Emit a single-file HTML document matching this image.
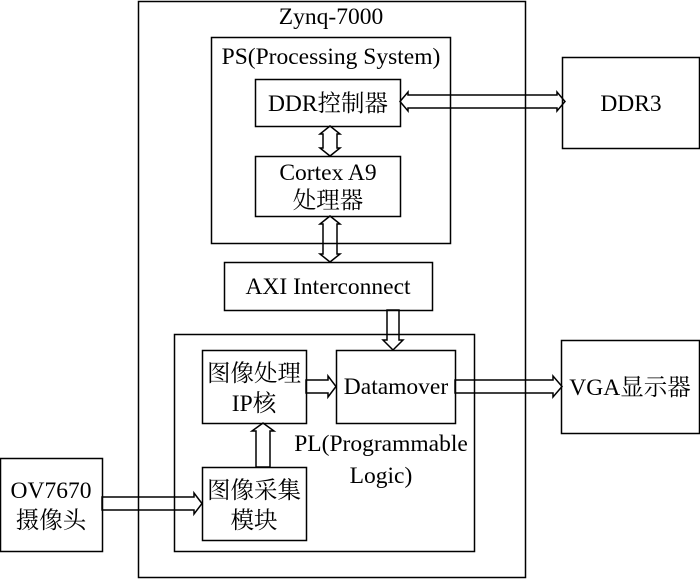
<!DOCTYPE html>
<html><head><meta charset="utf-8"><style>
html,body{margin:0;padding:0;background:#fff;}
svg{display:block;}
text{font-family:"Liberation Serif","Noto Serif CJK SC","Noto Sans CJK SC",serif;font-size:23.5px;fill:#000;text-anchor:middle;}
</style></head><body>
<svg width="700" height="579" viewBox="0 0 700 579" xmlns="http://www.w3.org/2000/svg">
<g fill="none" stroke="#000" stroke-width="1.5">
<rect x="138.5" y="1.5" width="387" height="576"/>
<rect x="211.5" y="37.5" width="239" height="206"/>
<rect x="255.5" y="79.5" width="145" height="47"/>
<rect x="255.5" y="156.5" width="145" height="60"/>
<rect x="224.5" y="262.5" width="208" height="48"/>
<rect x="562.5" y="57.5" width="137" height="91"/>
<rect x="174.5" y="334.5" width="300" height="217"/>
<rect x="202.5" y="350.5" width="104" height="73"/>
<rect x="336.5" y="350.5" width="119" height="73"/>
<rect x="561.5" y="340.5" width="138" height="93"/>
<rect x="202.5" y="467.5" width="104" height="73"/>
<rect x="0.5" y="458.5" width="102" height="93"/>
<polygon points="400,101.5 408,92 408,95 557,95 557,92 565,101.5 557,111 557,108 408,108 408,111"/>
<polygon points="330,126 340,134 337,134 337,148 340,148 330,156 320,148 323,148 323,134 320,134"/>
<polygon points="330,216 340,224 337,224 337,254 340,254 330,262 320,254 323,254 323,224 320,224"/>
<polygon points="387,310 399,310 399,340 403,340 393,350 383,340 387,340"/>
<polygon points="306,380 328,380 328,376 336,386.5 328,397 328,393 306,393"/>
<polygon points="455,380 553,380 553,376 562,386.5 553,397 553,393 455,393"/>
<polygon points="256,467 256,431 252,431 263,423 274,431 270,431 270,467"/>
<polygon points="102,497 194,497 194,493 202,503.5 194,514 194,510 102,510"/>
</g>
<text x="331" y="24">Zynq-7000</text>
<text x="331" y="64">PS(Processing System)</text>
<text x="328" y="111">DDR控制器</text>
<text x="328" y="180">Cortex A9</text>
<text x="328" y="208">处理器</text>
<text x="328" y="294">AXI Interconnect</text>
<text x="631" y="111">DDR3</text>
<text x="254" y="381">图像处理</text>
<text x="254" y="411">IP核</text>
<text x="396" y="394">Datamover</text>
<text x="630" y="395">VGA显示器</text>
<text x="381" y="451">PL(Programmable</text>
<text x="381" y="483">Logic)</text>
<text x="254" y="498">图像采集</text>
<text x="254" y="528">模块</text>
<text x="51" y="498">OV7670</text>
<text x="51" y="528">摄像头</text>
</svg>
</body></html>
